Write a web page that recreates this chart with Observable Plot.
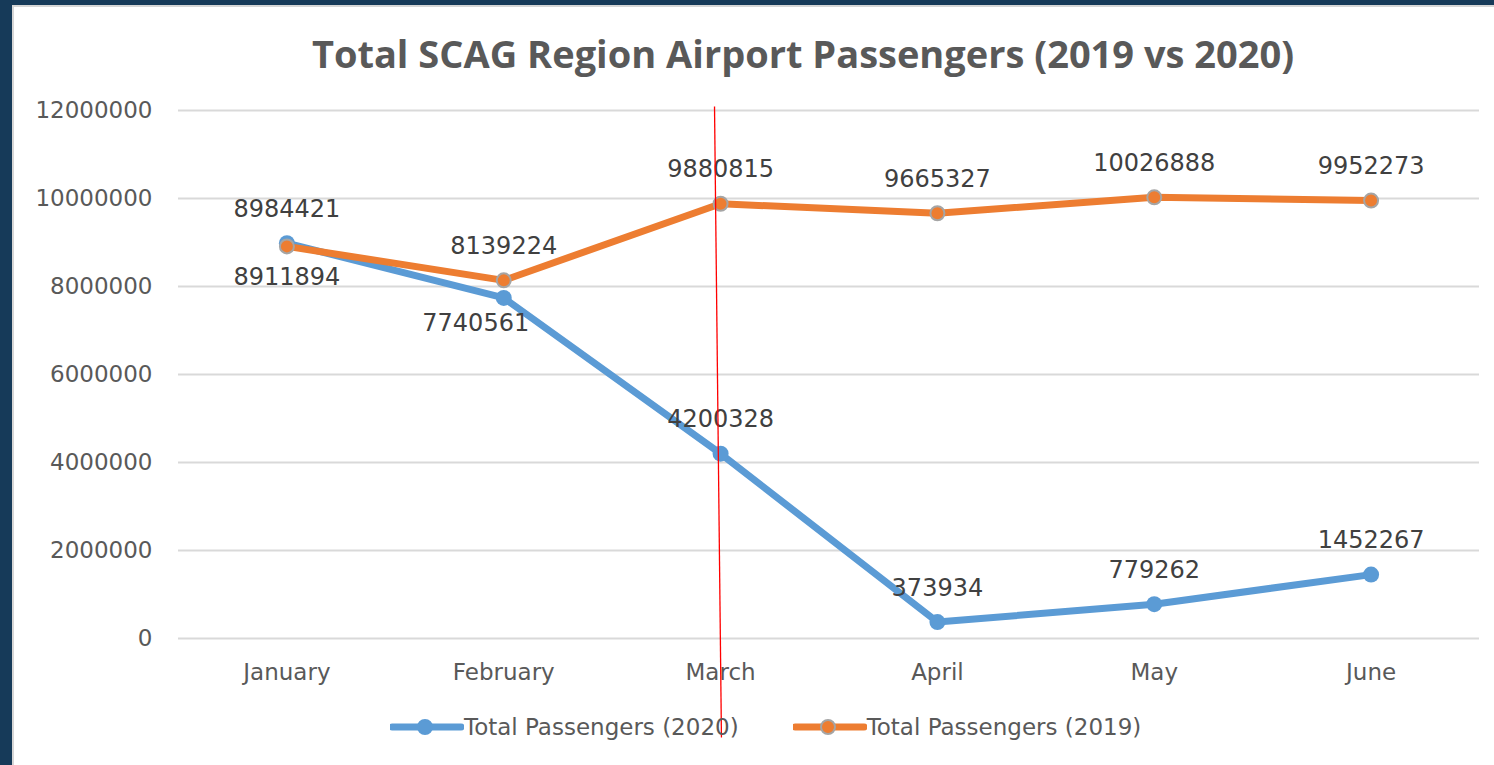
<!DOCTYPE html>
<html>
<head>
<meta charset="utf-8">
<script src="https://cdn.jsdelivr.net/npm/d3@7"></script>
<script src="https://cdn.jsdelivr.net/npm/@observablehq/plot@0.6"></script>
<style>
  html, body { margin: 0; padding: 0; width: 1494px; height: 765px; overflow: hidden; background: #163A59; }
  #card { position: absolute; left: 12px; top: 5px; width: 1482px; height: 760px; background: #fff;
          border-left: 2px solid #D6D6D6; border-top: 2px solid #D6D6D6; box-sizing: border-box; }
  #chart { position: absolute; left: 0; top: 0; }
  #title { position: absolute; top: 34px; left: 253px; width: 1100px; text-align: center;
           font-family: "Open Sans", sans-serif; font-weight: 700; font-size: 38px; line-height: 38px; color: #595959; white-space: nowrap; }
  #legend { position: absolute; top: 711px; left: 390px; height: 32px; display: flex; align-items: center;
            font-family: "DejaVu Sans", sans-serif; font-size: 23px; color: #595959; white-space: nowrap; }
  #legend .item { display: flex; align-items: center; }
  #legend svg { display: block; }
</style>
</head>
<body>
<div id="card"></div>
<div id="chart"></div>
<div id="title">Total SCAG Region Airport Passengers (2019 vs 2020)</div>
<div id="legend"></div>
<script>
// ---- data ----
const months = ["January", "February", "March", "April", "May", "June"];
const passengers2020 = [8984421, 7740561, 4200328, 373934, 779262, 1452267];
const passengers2019 = [8911894, 8139224, 9880815, 9665327, 10026888, 9952273];
const yTicks = [0, 2000000, 4000000, 6000000, 8000000, 10000000, 12000000];
const seriesNames = ["Total Passengers (2020)", "Total Passengers (2019)"];
// months whose data label sits below the point
const labelsBelow2020 = ["February"];
const labelsBelow2019 = ["January"];
// hand-drawn red annotation line near March (in data units: x as month index)
const marchLine = [{ x1: 1.972, x2: 2.004, y1: 12090000, y2: -2250000 }];

const blue = "#5B9BD5";
const orange = "#ED7D31";

const rows = months.map((m, i) => ({ i, month: m, v2020: passengers2020[i], v2019: passengers2019[i] }));
const lab2020Above = rows.filter(d => !labelsBelow2020.includes(d.month));
const lab2020Below = rows.filter(d => labelsBelow2020.includes(d.month));
const lab2019Above = rows.filter(d => !labelsBelow2019.includes(d.month));
const lab2019Below = rows.filter(d => labelsBelow2019.includes(d.month));

const labelStyle = { textAnchor: "middle", fontSize: 24, fill: "#404040", fontFamily: "DejaVu Sans" };

const chart = Plot.plot({
  width: 1494,
  height: 765,
  marginLeft: 178,
  marginRight: 15,
  marginTop: 110,
  marginBottom: 127,
  style: { background: "transparent", color: "#595959", fontFamily: "DejaVu Sans", fontSize: "23px", overflow: "visible" },
  x: { type: "linear", domain: [-0.5, months.length - 0.5] },
  y: { domain: [0, 12000000] },
  marks: [
    Plot.ruleY(yTicks, { stroke: "#D9D9D9", strokeWidth: 2 }),
    Plot.axisY({ ticks: yTicks, tickFormat: d => String(d), tickSize: 0, tickPadding: 26, label: null, fontSize: 23 }),
    Plot.axisX({ ticks: d3.range(months.length), tickFormat: i => months[i], tickSize: 0, tickPadding: 25, label: null, fontSize: 23 }),
    Plot.line(rows, { x: "i", y: "v2020", stroke: blue, strokeWidth: 7, strokeLinejoin: "round", strokeLinecap: "round" }),
    Plot.dot(rows, { x: "i", y: "v2020", r: 8, fill: blue }),
    Plot.line(rows, { x: "i", y: "v2019", stroke: orange, strokeWidth: 7, strokeLinejoin: "round", strokeLinecap: "round" }),
    Plot.dot(rows, { x: "i", y: "v2019", r: 7, fill: orange, stroke: "#A5A5A5", strokeWidth: 2 }),
    Plot.text(lab2020Above, { x: "i", y: "v2020", text: d => String(d.v2020), dy: -34, ...labelStyle }),
    Plot.text(lab2020Below, { x: "i", y: "v2020", text: d => String(d.v2020), dy: 25, dx: -28, ...labelStyle }),
    Plot.text(lab2019Above, { x: "i", y: "v2019", text: d => String(d.v2019), dy: -34, ...labelStyle }),
    Plot.text(lab2019Below, { x: "i", y: "v2019", text: d => String(d.v2019), dy: 31, ...labelStyle }),
    Plot.link(marchLine, { x1: "x1", x2: "x2", y1: "y1", y2: "y2", stroke: "#FF0000", strokeWidth: 1.3 })
  ]
});
document.getElementById("chart").appendChild(chart);

// ---- legend ----
const legend = document.getElementById("legend");
const legendSpec = [
  { name: seriesNames[0], color: blue, ring: blue, gap: "0px" },
  { name: seriesNames[1], color: orange, ring: "#A5A5A5", gap: "54px" }
];
legendSpec.forEach(s => {
  const item = document.createElement("div");
  item.className = "item";
  item.style.marginLeft = s.gap;
  item.innerHTML =
    `<svg width="74" height="20"><line x1="2" y1="10" x2="71" y2="10" stroke="${s.color}" stroke-width="7" stroke-linecap="round"/>` +
    `<circle cx="35" cy="10" r="7" fill="${s.color}" stroke="${s.ring}" stroke-width="2"/></svg>` +
    `<span>${s.name}</span>`;
  legend.appendChild(item);
});
</script>
</body>
</html>
